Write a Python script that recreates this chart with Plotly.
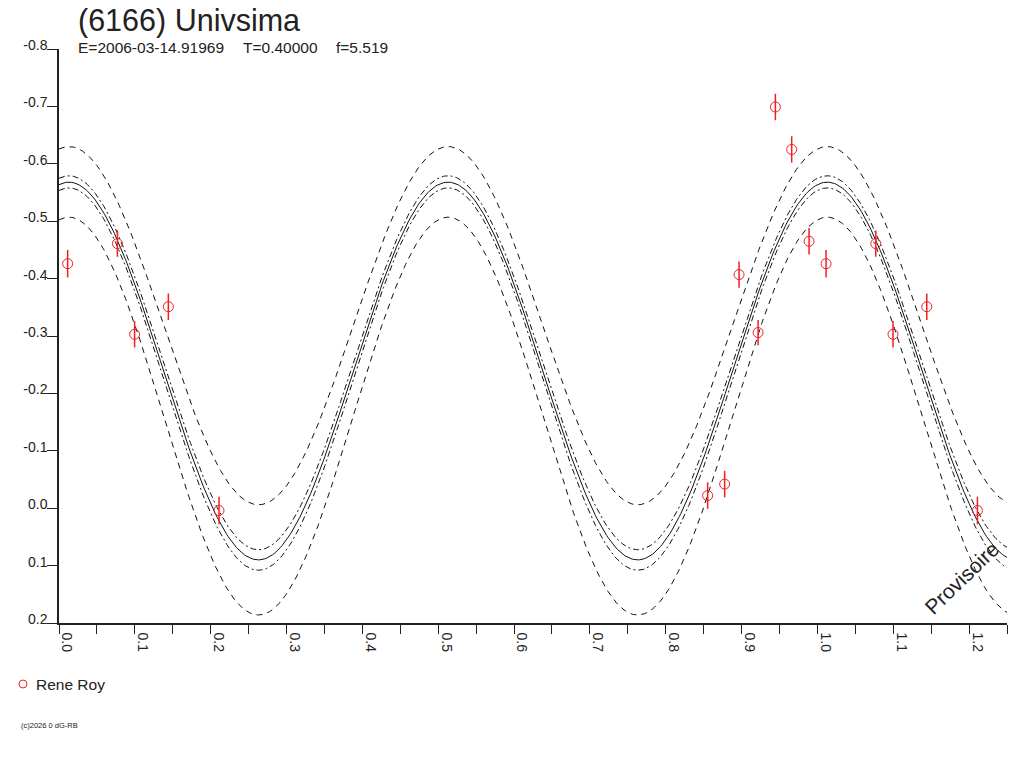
import numpy as np
import plotly.graph_objects as go

obs_phase = [0.0114, 0.077, 0.0997, 0.1442, 0.211, 0.8553, 0.8777, 0.8967, 0.9218, 0.9446, 0.9661, 0.989]
obs_mag = [-0.426, -0.461, -0.303, -0.351, 0.004, -0.022, -0.042, -0.407, -0.306, -0.699, -0.625, -0.465]
obs_err = [0.024, 0.023, 0.023, 0.023, 0.024, 0.023, 0.023, 0.023, 0.022, 0.023, 0.023, 0.023]
observer = "Rene Roy"

# ---- fitted curves (2nd-harmonic fit) : mean level and half amplitude ----
curve_kind = ["fit", "ci_upper", "ci_lower", "env_upper", "env_lower"]
curve_mean = [-0.239, -0.2534, -0.225, -0.318, -0.1605]
curve_amp = [0.329, 0.3257, 0.333, 0.312, 0.3465]
curve_phase0 = 0.013
curve_dash = ["solid", "6px,3px,2px,3px", "6px,3px,2px,3px", "6px,5px", "6px,5px"]

# ---- text ----
title_text = "(6166) Univsima"
info_texts = ["E=2006-03-14.91969", "T=0.40000", "f=5.519"]
y_ticks = [-0.8, -0.7, -0.6, -0.5, -0.4, -0.3, -0.2, -0.1, 0.0, 0.1, 0.2]
x_ticks = [0.0, 0.1, 0.2, 0.3, 0.4, 0.5, 0.6, 0.7, 0.8, 0.9, 1.0, 1.1, 1.2]
x_max = 1.25

FONT = "Liberation Sans, Arial, sans-serif"
TXT = "#222222"
RED = "#ee2024"

fig = go.Figure()

phi = np.linspace(0, x_max, 600)
for kind, m, a, d in zip(curve_kind, curve_mean, curve_amp, curve_dash):
    yv = m - a * np.cos(4 * np.pi * (phi - curve_phase0))
    fig.add_trace(go.Scatter(x=phi, y=yv, mode="lines", name=kind,
                             line=dict(color="#111111", width=1, dash=d),
                             hoverinfo="skip", showlegend=False))

# phase-folded points repeated beyond phase 1
px, py, pe = [], [], []
for p, m, e in zip(obs_phase, obs_mag, obs_err):
    for k in (0, 1):
        if p + k <= x_max:
            px.append(p + k); py.append(m); pe.append(e)

fig.add_trace(go.Scatter(
    x=px, y=py, mode="markers", name=observer, showlegend=False,
    marker=dict(symbol="circle-open", size=10, color=RED, line=dict(width=1, color=RED)),
    error_y=dict(type="data", array=pe, visible=True, color=RED, thickness=1.5, width=0),
))

# the page body margin is removed (post_script), so figure pixels == screen pixels
OFF = 0
W, H = 1024 - OFF, 768 - OFF
L, T = 59 - OFF, 49 - OFF
R = W - (1007 - OFF)
B = H - (623 - OFF)
pw, ph = W - L - R, H - T - B

def pxx(x):
    return (x - OFF - L) / pw

def pyy(y):
    return (H - B - (y - OFF)) / ph

ann = []
ann.append(dict(text=title_text, x=pxx(76), y=pyy(20), xref="paper", yref="paper",
                xanchor="left", yanchor="middle", showarrow=False,
                font=dict(family=FONT, size=30.5, color=TXT)))
for t, xp in zip(info_texts, [76, 241, 334]):
    ann.append(dict(text=t, x=pxx(xp), y=pyy(47), xref="paper", yref="paper",
                    xanchor="left", yanchor="middle", showarrow=False,
                    font=dict(family=FONT, size=15.5, color=TXT)))
ann.append(dict(text="Provisoire", x=pxx(961), y=pyy(578), xref="paper", yref="paper",
                xanchor="center", yanchor="middle", showarrow=False, textangle=-44,
                font=dict(family=FONT, size=21, color=TXT)))
ann.append(dict(text=observer, x=pxx(34), y=pyy(684), xref="paper", yref="paper",
                xanchor="left", yanchor="middle", showarrow=False,
                font=dict(family=FONT, size=15.5, color=TXT)))
ann.append(dict(text="(c)2026 0 dG-RB", x=pxx(19), y=pyy(725), xref="paper", yref="paper",
                xanchor="left", yanchor="middle", showarrow=False,
                font=dict(family=FONT, size=7.5, color=TXT)))

shapes = [dict(type="circle", xref="paper", yref="paper",
               x0=pxx(19), x1=pxx(27), y0=pyy(688), y1=pyy(680),
               line=dict(color=RED, width=1))]

fig.update_layout(
    width=W, height=H,
    margin=dict(l=L, r=R, t=T, b=B, pad=0),
    paper_bgcolor="white", plot_bgcolor="white",
    showlegend=False, hovermode=False,
    annotations=ann, shapes=shapes,
    font=dict(family=FONT, color=TXT),
    xaxis=dict(range=[0, x_max], tickmode="array", tickvals=x_ticks,
               ticktext=[f"{v:.1f}" for v in x_ticks],
               tickangle=90, ticks="outside", ticklen=9, tickcolor="#222", tickwidth=1,
               showline=True, linecolor="#222", linewidth=1.5, showgrid=False, zeroline=False,
               tickfont=dict(family=FONT, size=14, color=TXT),
               ticklabelshift=8, ticklabelstandoff=-4,
               minor=dict(dtick=0.05, tick0=0, ticks="outside", ticklen=9, tickcolor="#222", showgrid=False)),
    yaxis=dict(range=[0.2, -0.8], tickmode="array", tickvals=y_ticks,
               ticktext=[f"{v:.1f}" for v in y_ticks],
               ticks="outside", ticklen=10, tickcolor="#222", tickwidth=1,
               showline=True, linecolor="#222", linewidth=1.5, showgrid=False, zeroline=False,
               tickfont=dict(family=FONT, size=14, color=TXT),
               ticklabelshift=4, ticklabelstandoff=-3),
)

fig.write_html("out.html", config={"displayModeBar": False},
               post_script="document.body.style.margin='0px';")
